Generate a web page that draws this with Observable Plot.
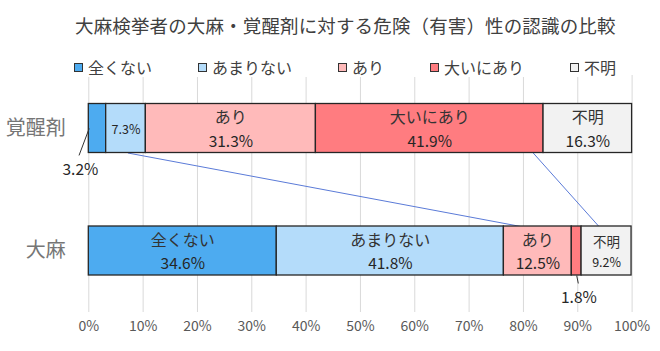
<!DOCTYPE html>
<html><head><meta charset="utf-8">
<script src="https://cdn.jsdelivr.net/npm/d3@7"></script>
<script src="https://cdn.jsdelivr.net/npm/@observablehq/plot@0.6"></script>
<style>
body{margin:0;background:#fff;font-family:"Noto Sans CJK JP",sans-serif;}
#wrap{position:relative;width:660px;height:351px;overflow:hidden;}
#wrap svg{position:absolute;left:0;top:0;}
#title{position:absolute;top:14px;left:75px;font-size:18.5px;line-height:22px;letter-spacing:0.14px;color:#404040;white-space:nowrap;z-index:2;}
#legend{position:absolute;top:57px;left:74px;display:flex;gap:46px;font-size:16px;line-height:20px;color:#404040;z-index:2;background:#fff;padding-right:4px;}
.item{display:flex;align-items:center;white-space:nowrap;}
.sw{width:9px;height:9px;border:1.2px solid #333;margin-right:5px;box-sizing:border-box;}
</style></head>
<body><div id="wrap"><div id="title"></div><div id="legend"></div></div>
<script>
const chartTitle = "大麻検挙者の大麻・覚醒剤に対する危険（有害）性の認識の比較";
const groups = ["覚醒剤", "大麻"];
const categories = ["全くない", "あまりない", "あり", "大いにあり", "不明"];
const stimulantValues = [3.2, 7.3, 31.3, 41.9, 16.3];
const cannabisValues = [34.6, 41.8, 12.5, 1.8, 9.2];
const colors = ["#4DABF0", "#B4DCFA", "#FFBABA", "#FF7C80", "#F2F2F2"];
const xTicks = [0, 10, 20, 30, 40, 50, 60, 70, 80, 90, 100];
const connectorFrom = [7.2, 81.8];
const connectorTo = [79.5, 93.9];

document.getElementById("title").textContent = chartTitle;
const legend = document.getElementById("legend");
categories.forEach((c, i) => {
  const it = document.createElement("div"); it.className = "item";
  const sw = document.createElement("div"); sw.className = "sw"; sw.style.background = colors[i];
  const t = document.createElement("span"); t.textContent = c;
  it.append(sw, t); legend.append(it);
});

const seriesByGroup = [stimulantValues, cannabisValues];
const rows = [];
seriesByGroup.forEach((vals, gi) => {
  const ends = d3.cumsum(vals);
  vals.forEach((v, ci) => {
    const end = ends[ci], start = end - v;
    rows.push({gi, group: groups[gi], category: categories[ci], value: v, start, end, mid: (start + end) / 2});
  });
});
const pct = d => d.value.toFixed(1) + "%";
const inside = rows.filter(d => d.value >= 5);
const big = inside.filter(d => d.value >= 10);
const small = inside.filter(d => d.value < 10);
const smallNamed = small.filter(d => (d.end - d.start) * 5.43 > d.category.length * 13 + 10);
const smallPctOnly = small.filter(d => !smallNamed.includes(d));
const outside = rows.filter(d => d.value < 5);
const outTop = outside.filter(d => d.gi === 0);
const outBottom = outside.filter(d => d.gi === 1);
const connectors = connectorFrom.map((f, i) => ({from: f, to: connectorTo[i]}));

const txt = "#262626";
const plot = Plot.plot({
  width: 660, height: 351,
  marginTop: 75, marginBottom: 39, marginLeft: 88, marginRight: 28,
  x: {domain: [0, 100], range: [88.3, 631.6], axis: null},
  y: {domain: [-0.2, 1.2], range: [103.5, 275], axis: null},
  color: {domain: categories, range: colors},
  style: {fontFamily: '"Noto Sans CJK JP", sans-serif', background: "#fff"},
  marks: [
    Plot.ruleX(xTicks, {stroke: "#d9d9d9", strokeWidth: 1}),
    Plot.text(xTicks, {x: d => d, frameAnchor: "bottom", dy: 18, text: d => d + "%", fontSize: 14, fill: "#595959"}),
    Plot.text(groups, {x: () => 0, y: (d, i) => i, dx: -23, textAnchor: "end", text: d => d, fontSize: 20, fill: "#767676"}),
    Plot.link(connectors, {x1: "from", y1: () => 0.2, x2: "to", y2: () => 0.8, stroke: "#5B7BD8", strokeWidth: 1}),
    Plot.rect(rows, {x1: "start", x2: "end", y1: d => d.gi - 0.2, y2: d => d.gi + 0.2, fill: "category", stroke: "#262626", strokeWidth: 1.3}),
    Plot.text(big, {x: "mid", y: "gi", dy: -10.5, text: "category", fontSize: 16, fill: "#333"}),
    Plot.text(big, {x: "mid", y: "gi", dy: 13.5, text: pct, fontSize: 15.5, fill: txt}),
    Plot.text(smallNamed, {x: "mid", y: "gi", dy: -8.5, text: "category", fontSize: 13.5, fill: "#333"}),
    Plot.text(smallNamed, {x: "mid", y: "gi", dy: 11.5, text: pct, fontSize: 12.5, fill: txt}),
    Plot.text(smallPctOnly, {x: "mid", y: "gi", dy: 1, text: pct, fontSize: 12.5, fill: txt}),
    Plot.link(outTop, {x1: d => d.start + 0.07, y1: "gi", x2: d => d.start - 1.8, y2: d => d.gi + 0.22, stroke: "#333", strokeWidth: 1}),
    Plot.text(outTop, {x: d => d.start - 1.55, y: d => d.gi + 0.343, text: pct, fontSize: 15.5, fill: txt}),
    Plot.link(outBottom, {x1: "mid", y1: d => d.gi + 0.2, x2: d => d.mid + 0.3, y2: d => d.gi + 0.265, stroke: "#333", strokeWidth: 1}),
    Plot.text(outBottom, {x: d => d.mid + 0.4, y: d => d.gi + 0.388, text: pct, fontSize: 15.5, fill: txt})
  ]
});
document.getElementById("wrap").prepend(plot);
</script>
</body></html>
